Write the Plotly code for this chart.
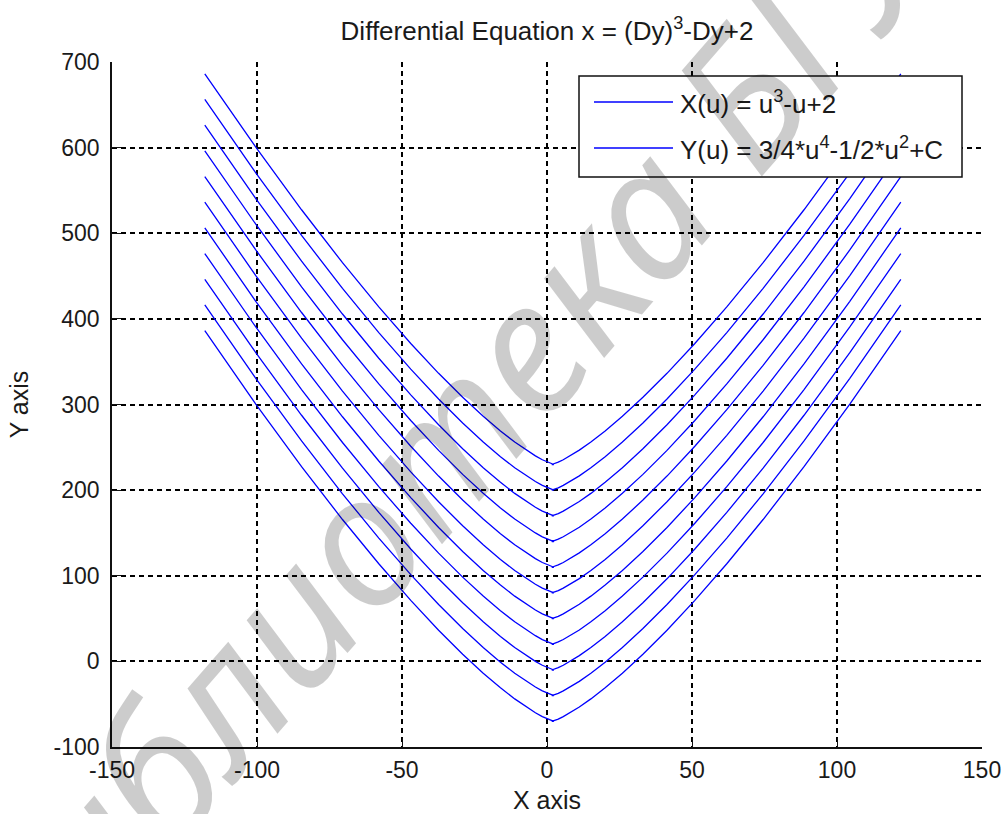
import plotly.graph_objects as go

# Base curve (C = 0): x = u^3 - u + 2, y = 3/4 u^4 - 1/2 u^2, sampled u = -5 .. 5
X_BASE = [-118.0, -100.42, -84.63, -70.52, -58.0, -46.98, -37.38, -29.08, -22.0, -16.05,
          -11.13, -7.14, -4.0, -1.61, 0.13, 1.30, 2.0, 2.33, 2.38, 2.23,
          2.0,
          1.77, 1.63, 1.67, 2.0, 2.70, 3.88, 5.61, 8.0, 11.14,
          15.13, 20.05, 26.0, 33.08, 41.38, 50.98, 62.0, 74.52, 88.63, 104.42, 122.0]
Y_BASE = [456.25, 370.52, 297.42, 235.66, 184.0, 141.28, 106.42, 78.39, 56.25, 39.11,
          26.17, 16.69, 10.0, 5.50, 2.67, 1.05, 0.25, -0.04, -0.08, -0.03,
          0.0,
          -0.03, -0.08, -0.04, 0.25, 1.05, 2.67, 5.50, 10.0, 16.69,
          26.17, 39.11, 56.25, 78.39, 106.42, 141.28, 184.0, 235.66, 297.42, 370.52, 456.25]
C_VALUES = [-70, -40, -10, 20, 50, 80, 110, 140, 170, 200, 230]

TITLE = "Differential Equation x = (Dy)<sup>3</sup>-Dy+2"
LEGEND_LABELS = ["X(u) = u<sup>3</sup>-u+2", "Y(u) = 3/4*u<sup>4</sup>-1/2*u<sup>2</sup>+C"]
X_TICKS = [-150, -100, -50, 0, 50, 100, 150]
Y_TICKS = [-100, 0, 100, 200, 300, 400, 500, 600, 700]
WATERMARK = "библиотека БГУ"

W, H = 1004, 814
L, R, T, B = 112, 982, 62, 747  # plot area in pixels

def px(x):
    return (x - L) / (R - L)

def py(y):
    return (B - y) / (B - T)

FONT = "Liberation Sans, Arial, sans-serif"
TXT = "#1a1a1a"

fig = go.Figure()
for i, c in enumerate(C_VALUES):
    fig.add_trace(go.Scatter(
        x=X_BASE, y=[v + c for v in Y_BASE], mode="lines",
        line=dict(color="#0000ff", width=1.3),
        name=LEGEND_LABELS[i] if i < len(LEGEND_LABELS) else f"C = {c}",
        showlegend=False, hoverinfo="skip"))

axis_common = dict(
    showgrid=True, gridcolor="#000000", gridwidth=1.5, griddash="5px,4px",
    zeroline=False, showline=True, linecolor="#111111", linewidth=1.6,
    ticks="inside", ticklen=9, tickwidth=1.3, tickcolor="#111111",
    tickfont=dict(family=FONT, size=23, color=TXT),
    mirror=False, automargin=False,
)

fig.update_layout(
    width=W, height=H,
    margin=dict(l=L, r=W - R, t=T, b=H - B, autoexpand=False),
    paper_bgcolor="white", plot_bgcolor="white",
    showlegend=False,
    title=dict(text=TITLE, x=0.5, xref="paper", xanchor="center",
               y=1 - 31 / H, yref="container", yanchor="middle",
               font=dict(family=FONT, size=26, color=TXT)),
    xaxis=dict(range=[-150, 150], tickvals=X_TICKS, ticktext=[str(v) for v in X_TICKS],
               title=dict(text="X axis", font=dict(family=FONT, size=25, color=TXT), standoff=10),
               ticklabelstandoff=2, **axis_common),
    yaxis=dict(range=[-100, 700], tickvals=Y_TICKS, ticktext=[str(v) for v in Y_TICKS],
               title=dict(text="Y axis", font=dict(family=FONT, size=25, color=TXT), standoff=18),
               ticklabelstandoff=6, **axis_common),
)

# Legend box (MATLAB style) drawn as shapes + text
lx0, lx1, ly0, ly1 = 579, 962, 76, 177
fig.add_shape(type="rect", xref="paper", yref="paper",
              x0=px(lx0), x1=px(lx1), y0=py(ly1), y1=py(ly0),
              fillcolor="white", line=dict(color="#111111", width=1.5), layer="above")
for label, yy in zip(LEGEND_LABELS, [102, 148]):
    fig.add_shape(type="line", xref="paper", yref="paper",
                  x0=px(594), x1=px(673), y0=py(yy), y1=py(yy),
                  line=dict(color="#0000ff", width=1.3), layer="above")
    fig.add_annotation(xref="paper", yref="paper", x=px(678), y=py(yy),
                       xanchor="left", yanchor="middle", showarrow=False,
                       text=label, font=dict(family=FONT, size=26, color=TXT))

# Watermark
fig.add_annotation(xref="paper", yref="paper", x=px(443), y=py(435),
                   xanchor="center", yanchor="middle", showarrow=False,
                   text=WATERMARK, textangle=-49,
                   font=dict(family="Noto Sans, Open Sans, sans-serif", size=182,
                             style="italic", color="rgba(0,0,0,0.2)"))

fig.write_html("out.html")
